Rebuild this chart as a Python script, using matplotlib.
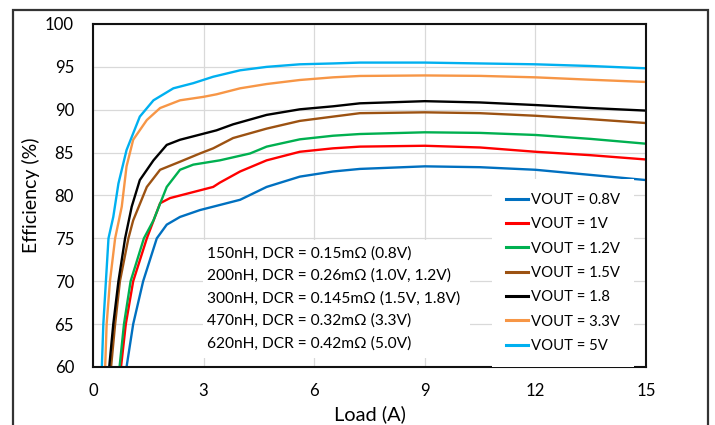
import matplotlib
matplotlib.use("Agg")
import matplotlib.pyplot as plt
from matplotlib.patches import Rectangle

plt.rcParams['font.family'] = ['Lato', 'DejaVu Sans']

labels = ["VOUT = 0.8V", "VOUT = 1V", "VOUT = 1.2V", "VOUT = 1.5V",
          "VOUT = 1.8", "VOUT = 3.3V", "VOUT = 5V"]
colors = ["#0070C0", "#FF0000", "#00B050", "#9C5212", "#000000", "#F79646", "#00B0F0"]

load_08 = [0.91, 1.09, 1.36, 1.73, 2.0, 2.36, 2.9, 3.99, 4.71, 5.61, 6.51, 7.24, 9, 10.5, 12, 13.5, 15]
eff_08 = [60, 65, 70, 75, 76.6, 77.5, 78.3, 79.5, 81.0, 82.2, 82.8, 83.1, 83.4, 83.3, 83.0, 82.4, 81.8]

load_10 = [0.76, 0.89, 1.09, 1.46, 1.82, 2.09, 3.26, 3.44, 3.99, 4.71, 5.61, 6.51, 7.24, 9, 10.5, 12, 13.5, 15]
eff_10 = [60, 65, 70, 75, 79.1, 79.7, 81.0, 81.5, 82.8, 84.1, 85.1, 85.5, 85.7, 85.8, 85.6, 85.1, 84.7, 84.2]

load_12 = [0.72, 0.84, 1.02, 1.38, 1.64, 2.0, 2.36, 2.72, 3.44, 4.26, 4.71, 5.61, 6.51, 7.24, 9, 10.5, 12, 13.5, 15]
eff_12 = [60, 65, 70, 75, 77.1, 81.0, 83.0, 83.6, 84.1, 84.9, 85.7, 86.55, 86.97, 87.17, 87.37, 87.3, 87.06, 86.6, 86.04]

load_15 = [0.49, 0.6, 0.73, 0.96, 1.09, 1.46, 1.82, 2.36, 2.9, 3.26, 3.8, 4.71, 5.61, 6.51, 7.24, 9, 10.5, 12, 13.5, 15]
eff_15 = [60, 65, 70, 75, 77.1, 81.0, 83.0, 83.94, 84.9, 85.5, 86.7, 87.8, 88.7, 89.2, 89.6, 89.7, 89.6, 89.3, 88.9, 88.45]

load_18 = [0.44, 0.55, 0.69, 0.87, 1.05, 1.27, 1.64, 2.0, 2.36, 2.9, 3.35, 3.8, 4.71, 5.61, 6.51, 7.24, 9, 10.5, 12, 13.5, 15]
eff_18 = [60, 65, 70, 75, 78.7, 81.8, 84.1, 85.9, 86.5, 87.1, 87.6, 88.3, 89.4, 90.05, 90.4, 90.75, 91.0, 90.85, 90.55, 90.2, 89.9]

load_33 = [0.33, 0.37, 0.46, 0.6, 0.78, 0.91, 1.09, 1.46, 1.82, 2.36, 2.99, 3.35, 3.99, 4.71, 5.61, 6.51, 7.24, 9, 10.5, 12, 13.5, 15]
eff_33 = [60, 65, 70, 75, 78.7, 83.4, 86.5, 88.8, 90.2, 91.1, 91.5, 91.8, 92.5, 93.0, 93.47, 93.78, 93.94, 94.0, 93.95, 93.78, 93.5, 93.24]

load_50 = [0.24, 0.28, 0.35, 0.42, 0.55, 0.69, 0.91, 1.27, 1.64, 2.18, 2.72, 3.26, 3.99, 4.71, 5.61, 6.51, 7.24, 9, 10.5, 12, 13.5, 15]
eff_50 = [60, 65, 70, 75, 77.5, 81.4, 85.3, 89.2, 91.1, 92.5, 93.1, 93.85, 94.6, 95.0, 95.3, 95.4, 95.5, 95.5, 95.4, 95.3, 95.1, 94.83]

loads = [load_08, load_10, load_12, load_15, load_18, load_33, load_50]
effs = [eff_08, eff_10, eff_12, eff_15, eff_18, eff_33, eff_50]

x_ticks = [0, 3, 6, 9, 12, 15]
y_ticks = [60, 65, 70, 75, 80, 85, 90, 95, 100]

note_lines = ["150nH, DCR = 0.15m\u03a9 (0.8V)",
              "200nH, DCR = 0.26m\u03a9 (1.0V, 1.2V)",
              "300nH, DCR = 0.145m\u03a9 (1.5V, 1.8V)",
              "470nH, DCR = 0.32m\u03a9 (3.3V)",
              "620nH, DCR = 0.42m\u03a9 (5.0V)"]

W, H = 715, 425
fig = plt.figure(figsize=(W / 100, H / 100), dpi=100)
renderer = fig.canvas.get_renderer()


def fit_size(s, target_px):
    t = fig.text(0, 0, s, fontsize=10)
    w = t.get_window_extent(renderer).width
    t.remove()
    return 10 * target_px / w


def text_h(s, size):
    t = fig.text(0, 0, s, fontsize=size)
    h = t.get_window_extent(renderer).height
    t.remove()
    return h


fs_tick = fit_size("100", 29)
fs_ylab = fit_size("Efficiency (%)", 115)
fs_xlab = fit_size("Load (A)", 72)
fs_leg = fit_size("VOUT = 0.8V", 88)
fs_note = fit_size(note_lines[2], 253)

ax = fig.add_axes([93 / W, 1 - 367 / H, (646 - 93) / W, (367 - 24) / H])

for x, y, c, lab in zip(loads, effs, colors, labels):
    ax.plot(x, y, color=c, lw=1.7, label=lab, solid_joinstyle='round')

ax.set_xlim(0, 15)
ax.set_ylim(60, 100)
ax.set_xticks(x_ticks)
ax.set_yticks(y_ticks)
ax.grid(True, color="#D9D9D9", lw=0.9)
ax.set_axisbelow(True)
for s in ax.spines.values():
    s.set_linewidth(1.5)
    s.set_color("#111111")
ax.tick_params(length=0, labelsize=fs_tick)
ax.tick_params(axis='y', pad=19 * 0.72)
ax.tick_params(axis='x', pad=16 * 0.72)
ax.set_xlabel("Load (A)", fontsize=fs_xlab, va='center')
ax.set_ylabel("Efficiency (%)", fontsize=fs_ylab, va='center')
ax.xaxis.set_label_coords(0.5, -(414 - 367) / 343)
ax.yaxis.set_label_coords((31 - 93) / 553, 0.5)

# note box
ax.add_patch(Rectangle((203 / W, 1 - 358 / H), (470 - 203) / W, (358 - 240) / H,
                       transform=fig.transFigure, facecolor='white', edgecolor='none',
                       zorder=3))
for i, line in enumerate(note_lines):
    fig.text(207 / W, 1 - (253.5 + 22.5 * i) / H, line, fontsize=fs_note,
             va='center', ha='left', zorder=4)

fs_leg_px = fs_leg / 72 * 100
h_leg = text_h("VOUT = 0.8V", fs_leg)
leg = ax.legend(loc='center left', bbox_to_anchor=(492 / W, 1 - 272.9 / H),
                bbox_transform=fig.transFigure, fontsize=fs_leg, frameon=True,
                fancybox=False, edgecolor='none', facecolor='white', framealpha=1,
                handlelength=22 / fs_leg_px, handletextpad=3 / fs_leg_px,
                labelspacing=(24.3 - h_leg) / fs_leg_px,
                borderpad=14 / fs_leg_px, borderaxespad=0)
for lh in leg.get_lines():
    lh.set_linewidth(2.2)

fig.patches.append(Rectangle((13 / W, -0.1), (708 - 13) / W, 1.1 - 10.5 / H,
                             transform=fig.transFigure, fill=False,
                             edgecolor="#333333", lw=1.6))

fig.savefig("out.png", dpi=100)
